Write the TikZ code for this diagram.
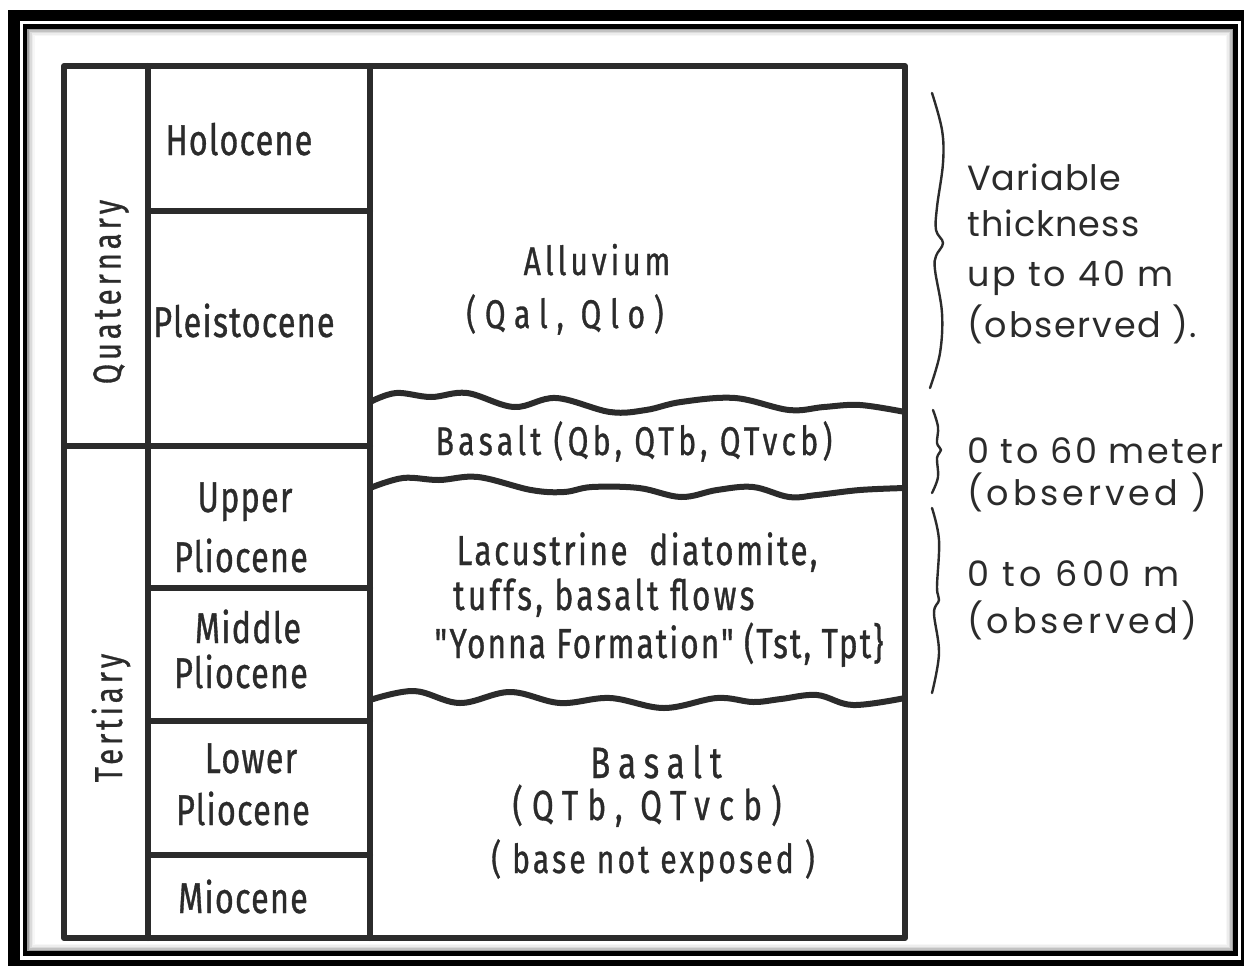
\documentclass[tikz,border=0pt]{standalone}
\usepackage{fontspec}
\newfontfamily\lettering[FakeStretch=0.75, FakeBold=0.8]{Fira Sans}
\newfontfamily\notefont{Poppins}
\definecolor{ink}{HTML}{2B2B2B}
% lettering at a given size and letter spacing
\newcommand\lt[2]{\lettering\fontsize{#1}{#1}\selectfont\addfontfeatures{LetterSpace=#2}}
% side notes with a given letter spacing
\newcommand\nt[1]{\notefont\fontsize{35}{35}\selectfont\addfontfeatures{LetterSpace=#1}}

\begin{document}
\begin{tikzpicture}[x=1pt,y=-1pt,
  rule/.style={draw=ink, line width=6pt, line cap=round, line join=round},
  wave/.style={draw=ink, line width=6pt, line cap=round, line join=round},
  brace/.style={draw=ink, line width=2.4pt, line cap=round, line join=round},
  lbl/.style={text=ink, inner sep=0pt, anchor=base},
  note/.style={text=ink, inner sep=0pt, anchor=base west, font=\nt{3}},
  epoch/.style={lbl, font=\lt{43}{3}},
  era/.style={text=ink, inner sep=0pt, rotate=90, font=\lt{39}{10}}
]
\useasboundingbox (0,0) rectangle (1244,966);
\fill[white] (0,0) rectangle (1244,966);

% double frame
\fill[black] (8,10) rectangle (1244,966);
\fill[white] (19.5,21) rectangle (1241,959.5);
\foreach \k/\c in {5/3,4/7,3/14,2/24,1/38}
  \draw[black!\c, line width=1.6pt] ({26.5+\k*1.5},{28+\k*1.5}) rectangle ({1234-\k*1.5},{952-\k*1.5});
\draw[black, line width=4.5pt] (25,26.5) rectangle (1235.5,953.5);

% column frame and dividers
\draw[rule] (64,66) rectangle (905,938);
\draw[rule] (148,66) -- (148,938);
\draw[rule] (370,66) -- (370,938);
\draw[rule] (64,446) -- (370,446);
\draw[rule] (148,211) -- (370,211);
\draw[rule] (148,588) -- (370,588);
\draw[rule] (148,721) -- (370,721);
\draw[rule] (148,855) -- (370,855);

% unconformities
\draw[wave] plot[smooth, tension=0.6] coordinates {(370,402) (396,393) (431,397) (467,393) (514,407) (556,398) (610,412) (646,410) (681,402) (735,398) (789,410) (824,407) (860,405) (905,412)};
\draw[wave] plot[smooth, tension=0.6] coordinates {(370,488) (403,478) (439,480) (478,477) (531,490) (564,492) (592,487) (639,488) (681,497) (717,490) (753,487) (789,497) (817,495) (860,490) (905,488)};
\draw[wave] plot[smooth, tension=0.6] coordinates {(370,700) (414,691) (460,703) (510,692) (560,703) (610,698) (664,708) (717,698) (753,702) (781,699) (817,695) (853,705) (905,698)};

% eras
\node[era] (quat) at (111,292) {Quaternary};
\node[era] (tert) at (111,718) {Tertiary};

% epochs
\node[epoch] (holo) at (239,155) {Holocene};
\node[epoch] (pleis) at (244,337) {Pleistocene};
\node[epoch] (upA) at (245,512) {Upper};
\node[epoch] (upB) at (241,572) {Pliocene};
\node[epoch] (midA) at (248,643) {Middle};
\node[epoch] (midB) at (241,688) {Pliocene};
\node[epoch] (lowA) at (251,773) {Lower};
\node[epoch] (lowB) at (243,825) {Pliocene};
\node[epoch] (mio) at (243,913) {Miocene};

% rock units
\node[lbl, font=\lt{40}{10}] (alluv) at (597,275) {Alluvium};
\node[lbl, font=\lt{40}{22}] (alluvc) at (565,328) {(Qal, Qlo)};
\node[lbl, font=\lt{40}{11}] (qb) at (634,455) {Basalt (Qb, QTb, QTvcb)};
\node[lbl, font=\lt{42}{6}] (lacA) at (637,565) {Lacustrine\ \ diatomite,};
\node[lbl, font=\lt{42}{8}, anchor=base west] (lacB) at (453,610) {tuffs, basalt flows};
\node[lbl, font=\lt{42}{5}] (lacC) at (659,658) {"Yonna Formation" (Tst, Tpt\}};
\node[lbl, font=\lt{44}{18}] (bas) at (656,778) {Basalt};
\node[lbl, font=\lt{42}{22}] (basc) at (647,820) {(QTb, QTvcb)};
\node[lbl, font=\lt{40}{8}] (basn) at (653,873) {( base not exposed )};

% thickness braces
\draw[brace] plot[smooth, tension=0.6] coordinates {(932,93) (942,130) (943,163) (937,207) (936,230) (943,243) (936,256) (935,270) (942,313) (940,353) (930,388)};
\draw[brace] plot[smooth, tension=0.6] coordinates {(933,410) (938,427) (937,443) (941,450) (937,458) (938,477) (932,493)};
\draw[brace] plot[smooth, tension=0.6] coordinates {(932,508) (939,540) (937,587) (939,600) (934,613) (939,653) (932,693)};

% thickness notes
\node[note] (n1a) at (967,190) {Variable};
\node[note] (n1b) at (967,236) {thickness};
\node[note, font=\nt{8}] (n1c) at (967,286) {up to 40 m};
\node[note, font=\nt{5}] (n1d) at (967,337) {(observed ).};
\node[note, font=\nt{7}] (n2a) at (967,463) {0 to 60 meter};
\node[note, font=\nt{11}] (n2b) at (967,505) {(observed )};
\node[note, font=\nt{12}] (n3a) at (967,586) {0 to 600 m};
\node[note, font=\nt{11}] (n3b) at (967,633) {(observed)};
\end{tikzpicture}
\end{document}
